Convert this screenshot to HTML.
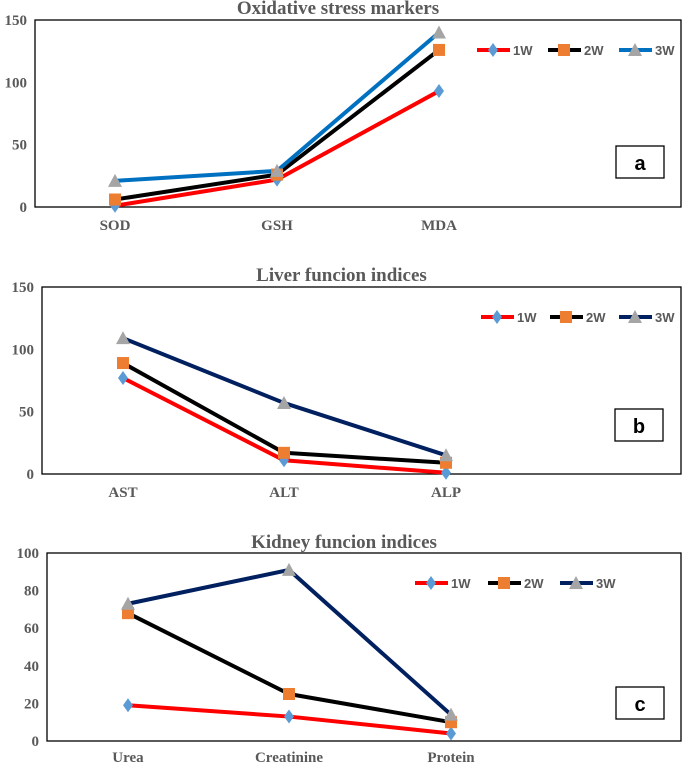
<!DOCTYPE html>
<html><head><meta charset="utf-8"><style>
html,body{margin:0;padding:0;background:#fff;width:685px;height:764px;overflow:hidden}
svg text{font-family:"Liberation Serif",serif;font-weight:bold;fill:#595959}
</style></head><body>
<svg id="chart" width="685" height="764" xmlns="http://www.w3.org/2000/svg"></svg>
<script>
// Panel a data
const catsA = ["SOD","GSH","MDA"];
const a1W = [1, 22, 93];
const a2W = [6, 26, 126];
const a3W = [21, 29, 140];
const ticksA = [0, 50, 100, 150];
// Panel b data
const catsB = ["AST","ALT","ALP"];
const b1W = [77, 11, 1];
const b2W = [89, 17, 9];
const b3W = [109, 57, 15];
const ticksB = [0, 50, 100, 150];
// Panel c data
const catsC = ["Urea","Creatinine","Protein"];
const c1W = [19, 13, 4];
const c2W = [68, 25, 10];
const c3W = [73, 91, 14];
const ticksC = [0, 20, 40, 60, 80, 100];
const seriesNames = ["1W","2W","3W"];

const NS = "http://www.w3.org/2000/svg";
const svg = document.getElementById("chart");
function mk(tag, attrs, parent){const e=document.createElementNS(NS,tag);for(const k in attrs)e.setAttribute(k,attrs[k]);(parent||svg).appendChild(e);return e;}

function marker(g, type, x, y){
  let m;
  if(type===0){m=mk("polygon",{points:`${x},${y-7} ${x+5},${y} ${x},${y+7} ${x-5},${y}`,fill:"#5b9bd5"},g);}
  else if(type===1){m=mk("rect",{x:x-6,y:y-6,width:12,height:12,fill:"#ed7d31"},g);}
  else {m=mk("polygon",{points:`${x},${y-7} ${x+7},${y+6} ${x-7},${y+6}`,fill:"#a5a5a5"},g);}
  return m;
}

function panel(cfg){
  const g = mk("g",{});
  
  
  const {L,R,T,B,max,xs} = cfg;
  const yS = v => B - (v/max)*(B-T);
  const t = mk("text",{x:(L+R)/2-20,y:cfg.titleY,"text-anchor":"middle","font-size":"19"},g);
  t.textContent = cfg.title;
  
  
  const frame = mk("rect",{x:L,y:T,width:R-L,height:B-T,fill:"none",stroke:"#000","stroke-width":1.3},g);
  
  
  cfg.ticks.forEach(v=>{
    const tx = mk("text",{x:L-8,y:yS(v)+5,"text-anchor":"end","font-size":"15"},g);
    tx.textContent = v;
    
    
  });
  cfg.cats.forEach((c,i)=>{
    const tx = mk("text",{x:xs[i],y:cfg.labelY,"text-anchor":"middle","font-size":"15"},g);
    tx.textContent = c;
    
    
  });
  cfg.series.forEach((vals,si)=>{
    const pts = vals.map((v,i)=>`${xs[i]},${yS(v)}`).join(" ");
    const pl = mk("polyline",{points:pts,fill:"none",stroke:cfg.colors[si],"stroke-width":4,"stroke-linejoin":"round"},g);
    
    
  });
  cfg.series.forEach((vals,si)=>{
    vals.forEach((v,i)=>{
      const m = marker(g, si, xs[i], yS(v));
      
      
    });
  });
  cfg.legX.forEach((lx,si)=>{
    const ly = cfg.legY;
    const ln = mk("line",{x1:lx,y1:ly,x2:lx+33,y2:ly,stroke:cfg.colors[si],"stroke-width":4},g);
    
    
    marker(g, si, lx+16, ly);
    const lt = mk("text",{x:lx+36,y:ly+5,"font-size":"13",style:"font-family:'Liberation Sans',sans-serif"},g);
    lt.textContent = seriesNames[si];
    
    
  });
  const bx = mk("rect",{x:cfg.box[0],y:cfg.box[1],width:48,height:32,fill:"#fff",stroke:"#000","stroke-width":1.3},g);
  
  
  const bt = mk("text",{x:cfg.box[0]+24,y:cfg.box[1]+24,"text-anchor":"middle","font-size":"20",style:"font-family:'Liberation Sans',sans-serif;fill:#000"},g);
  bt.textContent = cfg.letter;
  
  
}

panel({id:"panel-a",title:"Oxidative stress markers",titleY:14,L:35,R:681,T:20,B:207,max:150,
  xs:[115,277,439],cats:catsA,ticks:ticksA,labelY:230,series:[a1W,a2W,a3W],
  colors:["#ff0000","#000000","#0070c0"],legX:[477,548,619],legY:50,box:[616,146],letter:"a"});
panel({id:"panel-b",title:"Liver funcion indices",titleY:281,L:42,R:681,T:287,B:474,max:150,
  xs:[123,284,446],cats:catsB,ticks:ticksB,labelY:497,series:[b1W,b2W,b3W],
  colors:["#ff0000","#000000","#002060"],legX:[481,550,619],legY:317,box:[615,409],letter:"b"});
panel({id:"panel-c",title:"Kidney funcion indices",titleY:548,L:47,R:681,T:553,B:741,max:100,
  xs:[128,289,451],cats:catsC,ticks:ticksC,labelY:762,series:[c1W,c2W,c3W],
  colors:["#ff0000","#000000","#002060"],legX:[415,488,560],legY:583,box:[616,687],letter:"c"});
</script>
</body></html>
